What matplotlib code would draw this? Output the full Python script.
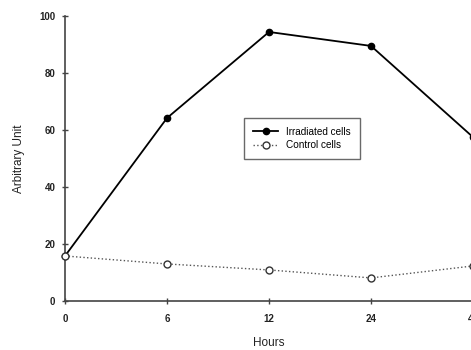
import matplotlib
matplotlib.use("Agg")
import matplotlib.pyplot as plt

hours = ["0", "6", "12", "24", "48"]
irradiated = [15.8, 64.2, 94.4, 89.5, 57.5]
control = [15.8, 13.0, 10.9, 8.1, 12.3]

plt.rcParams['font.family'] = ['Liberation Sans', 'DejaVu Sans']

fig = plt.figure(figsize=(4.71, 3.5), dpi=100)
ax = fig.add_axes([65 / 471, 1 - 301 / 350, 408 / 471, 285 / 350])

x = list(range(len(hours)))
ax.plot(x, irradiated, '-', color='black', linewidth=1.3, marker='o',
        markersize=4.5, markerfacecolor='black', markeredgecolor='black',
        label='Irradiated cells', clip_on=False, zorder=3)
ax.plot(x, control, ':', color='#555555', linewidth=1.0, marker='o',
        markersize=5, markerfacecolor='white', markeredgecolor='#333333',
        markeredgewidth=1.0, label='Control cells', clip_on=False, zorder=4)

ax.set_xlim(0, 4)
ax.set_ylim(0, 100)
ax.set_xticks(x)
ax.set_xticklabels(hours)
ax.set_yticks([0, 20, 40, 60, 80, 100])

for s in ['top', 'right']:
    ax.spines[s].set_visible(False)
for s in ['left', 'bottom']:
    ax.spines[s].set_color('#444444')
    ax.spines[s].set_linewidth(1.2)

ax.tick_params(axis='both', direction='inout', length=4, width=1, colors='#444444',
               labelsize=7, labelcolor='#222222')
ax.tick_params(axis='x', pad=7)
ax.tick_params(axis='y', pad=5)
for lab in ax.get_xticklabels() + ax.get_yticklabels():
    lab.set_fontweight('bold')

ax.set_xlabel('Hours', fontsize=8.5, color='#222222', labelpad=10)
ax.set_ylabel('Arbitrary Unit', fontsize=8.5, color='#222222', labelpad=10)

leg = ax.legend(loc='upper left', bbox_to_anchor=(174 / 408, 1 - 97 / 285),
                fontsize=7.2, frameon=True, fancybox=False, edgecolor='#444444',
                handlelength=2.5, borderpad=0.9, labelspacing=0.35)
leg.get_frame().set_linewidth(1.0)

fig.savefig('out.png', dpi=100)
